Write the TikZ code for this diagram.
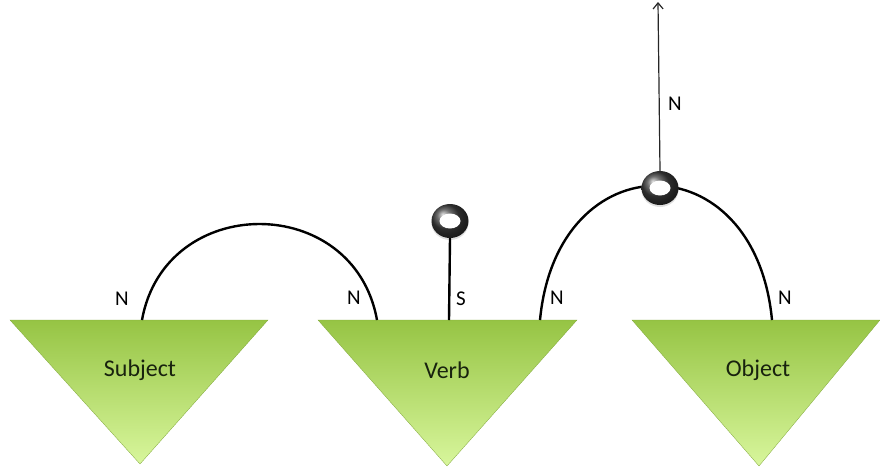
\documentclass[tikz,border=0pt]{standalone}
\usepackage{fontspec}
\setmainfont{Carlito}
\usepackage{xcolor}
\usetikzlibrary{arrows.meta,shapes.geometric,shadows}
\definecolor{leafTop}{RGB}{150,196,68}
\definecolor{leafBot}{RGB}{216,246,156}
\definecolor{wordInk}{RGB}{24,34,14}

\begin{document}
\begin{tikzpicture}[
  x=1pt, y=-1pt,
  every node/.style={font=\fontsize{21}{24}\selectfont},
  wedge/.style={top color=leafTop, bottom color=leafBot,
    draw=leafTop!85!black, line width=0.3pt},
  word/.style={font=\fontsize{24}{28}\selectfont, text=wordInk},
  link/.style={line width=2.4pt, black},
  ring/.style={ellipse, minimum width=37pt, minimum height=34pt,
    inner sep=0pt, ball color=black!75,
    drop shadow={opacity=0.25, shadow xshift=0pt, shadow yshift=-2pt},
    path picture={\fill[white] (path picture bounding box.center)
      ellipse (10.5pt and 7.5pt);}},
  flow/.style={-{Straight Barb[length=6pt,width=10pt]}, line width=1.2pt, black!85},
]
\useasboundingbox (0,0) rectangle (880,472);

% the three word wedges
\shade[wedge] (10,320) -- (268,320) -- (140,464) -- cycle;
\shade[wedge] (318,320) -- (577,320) -- (447,466) -- cycle;
\shade[wedge] (632,320) -- (880,320) -- (759,466) -- cycle;
\node[word] (subj) at (140,370) {Subject};
\node[word] (verb) at (447,370) {Verb};
\node[word] (obj)  at (758,370) {Object};

\coordinate (subjN)  at (142,320);
\coordinate (verbN)  at (377,320);
\coordinate (verbS)  at (449,320);
\coordinate (verbNr) at (540,320);
\coordinate (objN)   at (772,320);
\coordinate (tip)    at (658,2);

\draw[link] (subjN) .. controls +(23,-128) and +(-23,-128) .. (verbN);
\draw[link] (verbNr) .. controls +(17,-179) and +(-17,-179) .. (objN);

\node[ring] (sring) at (450,221) {};
\node[ring] (nring) at (660,188) {};

\draw[link] (sring.south) -- (verbS);
\draw[flow] (nring.north) -- (tip);

\node (nSubj)  at (122,299) {N};
\node (nVerbL) at (354,298) {N};
\node (sVerb)  at (461,299) {S};
\node (nVerbR) at (557,298) {N};
\node (nObj)   at (785,298) {N};
\node (nTop)   at (675,104) {N};
\end{tikzpicture}
\end{document}
